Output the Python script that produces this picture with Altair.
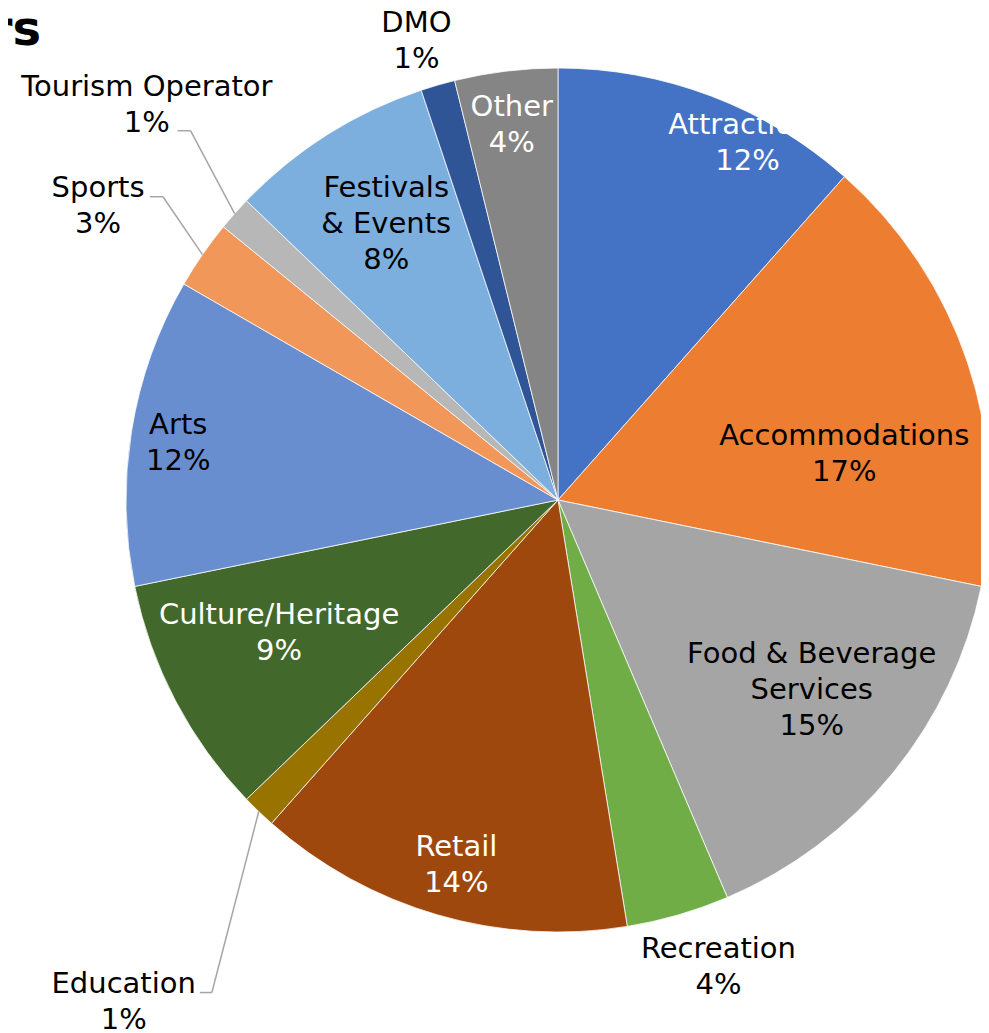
import altair as alt
import pandas as pd

# ---- data -------------------------------------------------------------
categories = ["Attractions", "Accommodations", "Food & Beverage Services", "Recreation",
              "Retail", "Education", "Culture/Heritage", "Arts", "Sports",
              "Tourism Operator", "Festivals & Events", "DMO", "Other"]
counts = [9, 13, 12, 3, 11, 1, 7, 9, 2, 1, 6, 1, 3]
label_text = ["Attractions", "Accommodations", "Food & Beverage|Services", "Recreation",
              "Retail", "Education", "Culture/Heritage", "Arts", "Sports",
              "Tourism Operator", "Festivals|& Events", "DMO", "Other"]

# ---- styles -----------------------------------------------------------
slice_colors = ["#4472C4", "#ED7D31", "#A5A5A5", "#70AD47", "#9E480E", "#997300",
                "#43682B", "#698ED0", "#F1975A", "#B7B7B7", "#7CAFDD", "#2F5597", "#858585"]
text_colors = ["white", "black", "black", "black", "white", "black", "white",
               "black", "black", "black", "black", "black", "white"]

# ---- label layout (radius in px, angular nudge from slice middle in degrees) ----
label_radius = [404, 290, 317, 494, 379, 664, 309, 384, 546, 570, 325, 480, 378]
label_nudge = [7.2, 9.3, -2.4, -2.8, -0.6, -3.0, 2.2, -0.7, -2.0, 2.3, 0.4, -1.0, -0.1]
leader_elbow_r = [0, 0, 0, 0, 0, 602, 0, 0, 498, 521, 0, 0, 0]
leader_elbow_nudge = [0, 0, 0, 0, 0, -8.75, 0, 0, 2.9, 3.6, 0, 0, 0]
leader_tail = [0, 0, 0, 0, 0, 12, 0, 0, 13, 13, 0, 0, 0]

CX, CY, R = 550, 492, 432
FONT = "DejaVu Sans"
LH = 36

df = pd.DataFrame({
    "order": list(range(len(categories))),
    "category": categories,
    "count": counts,
    "label": label_text,
    "tcolor": text_colors,
    "lr": label_radius,
    "lnudge": label_nudge,
    "er": leader_elbow_r,
    "enudge": leader_elbow_nudge,
    "tail": leader_tail,
})

base = alt.Chart(df)

arcs = base.mark_arc(outerRadius=R, stroke="white", strokeWidth=0.75).encode(
    theta=alt.Theta("count:Q", stack=True),
    order=alt.Order("order:Q"),
    color=alt.Color("category:N", scale=alt.Scale(domain=categories, range=slice_colors), legend=None),
    x=alt.value(CX),
    y=alt.value(CY),
)

polar = (
    base.transform_window(cum="sum(count)", sort=[alt.SortField("order")], frame=[None, 0])
    .transform_joinaggregate(total="sum(count)")
    .transform_calculate(
        mid="(datum.cum - datum.count/2) / datum.total * 2 * PI",
    )
    .transform_calculate(
        ltheta="datum.mid + datum.lnudge * PI / 180",
        lines="split(datum.label + '|' + format(datum.count / datum.total, '.0%'), '|')",
        sx=f"{CX} + {R} * sin(datum.mid)",
        sy=f"{CY} - {R} * cos(datum.mid)",
        ex=f"{CX} + datum.er * sin(datum.mid + datum.enudge * PI / 180)",
        ey=f"{CY} - datum.er * cos(datum.mid + datum.enudge * PI / 180)",
    )
    .transform_calculate(tx="datum.ex - datum.tail", nlines="length(datum.lines)")
)


def label_layer(n):
    return polar.transform_filter(f"datum.nlines == {n}").mark_text(
        font=FONT, fontSize=29, lineHeight=LH, align="center", baseline="middle",
        dy=-(n - 1) * LH / 2,
    ).encode(
        theta=alt.Theta("ltheta:Q", scale=None),
        radius=alt.Radius("lr:Q", scale=None),
        text=alt.Text("lines:N"),
        color=alt.Color("tcolor:N", scale=None),
        x=alt.value(CX),
        y=alt.value(CY),
    )


leaders = polar.transform_filter("datum.er > 0")
leader_diag = leaders.mark_rule(color="#A6A6A6", strokeWidth=1.5).encode(
    x=alt.X("sx:Q", scale=None), y=alt.Y("sy:Q", scale=None),
    x2="ex:Q", y2="ey:Q",
)
leader_tail_rule = leaders.mark_rule(color="#A6A6A6", strokeWidth=1.5).encode(
    x=alt.X("ex:Q", scale=None), y=alt.Y("ey:Q", scale=None),
    x2="tx:Q", y2="ey:Q",
)

title = alt.Chart(pd.DataFrame({"t": ["rs"]})).mark_text(
    font=FONT, fontSize=48, fontWeight="bold", align="right", baseline="alphabetic", color="black"
).encode(text="t:N", x=alt.value(33), y=alt.value(37))

chart = alt.layer(arcs, leader_diag, leader_tail_rule, label_layer(2), label_layer(3), title).properties(
    width=973, height=1025, autosize="none", padding=0
).configure_view(stroke=None)

chart.save("out.html", embed_options={"renderer": "svg", "actions": False})
